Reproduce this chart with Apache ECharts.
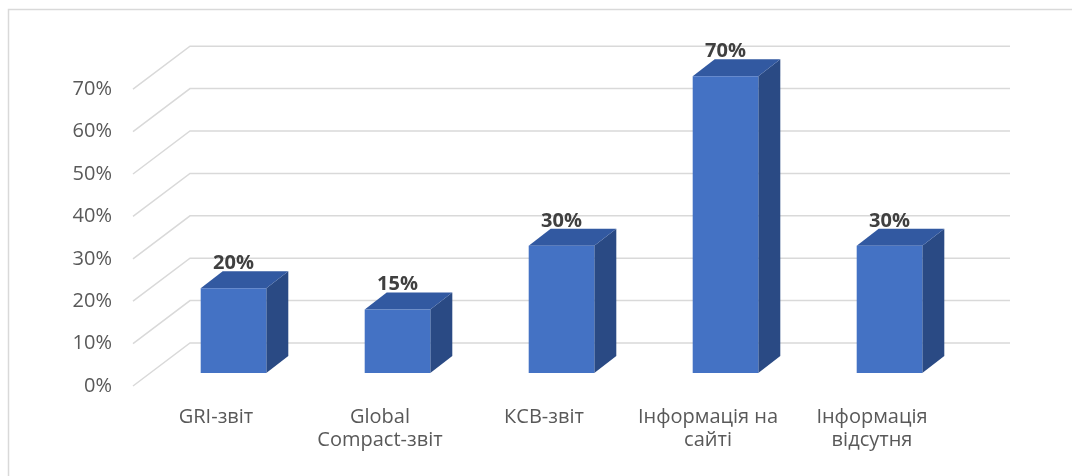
<!DOCTYPE html>
<html lang="uk">
<head>
<meta charset="UTF-8">
<title>Звіти</title>
<script src="https://cdn.jsdelivr.net/npm/echarts@6/dist/echarts.min.js"></script>
<style>
  html, body { margin: 0; padding: 0; background: #fff; }
  #main { width: 1072px; height: 476px; }
</style>
</head>
<body>
<div id="main"></div>
<script>
// дані з діаграми
var categories = ['GRI-звіт', 'Global Compact-звіт', 'КСВ-звіт', 'Інформація на сайті', 'Інформація відсутня'];
var catLabels = ['GRI-звіт', 'Global\nCompact-звіт', 'КСВ-звіт', 'Інформація на\nсайті', 'Інформація\nвідсутня'];
var values = [20, 15, 30, 70, 30];
var yTicks = [0, 10, 20, 30, 40, 50, 60, 70];

var font = '"Open Sans", "Noto Sans", sans-serif';
var chart = echarts.init(document.getElementById('main'));

// глибина стінок (3D-підлога) і глибина стовпців
var floorFront = [-18.5, 13], floorBack = [38.5, -30];
var barDepth = [22, -17];

var option = {
  animation: false,
  graphic: [{
    type: 'rect', shape: { x: 8.5, y: 9.5, width: 1200, height: 600 },
    style: { fill: 'none', stroke: '#d9d9d9', lineWidth: 1.5 }, silent: true
  }],
  grid: { left: 151.5, right: 100.5, top: 76.2, bottom: 103 },
  xAxis: {
    type: 'category',
    data: categories,
    axisLine: { show: false },
    axisTick: { show: false },
    axisLabel: {
      interval: 0,
      margin: 32.5,
      fontFamily: font,
      fontSize: 20,
      lineHeight: 23,
      color: '#595959',
      padding: [0, 35, 0, 0],
      formatter: function (v, i) { return catLabels[i]; }
    }
  },
  yAxis: {
    type: 'value', min: 0, max: 70, interval: 10,
    axisLine: { show: false }, axisTick: { show: false },
    axisLabel: { show: false }, splitLine: { show: false }
  },
  series: [{
    // сітка у перспективі + підписи осі
    type: 'custom',
    data: yTicks.map(function (v) { return [0, v]; }),
    silent: true,
    z: 1,
    renderItem: function (params, api) {
      var cs = params.coordSys;
      var y = api.coord([0, api.value(1)])[1];
      var x0 = cs.x, x1 = cs.x + cs.width;
      return {
        type: 'group',
        children: [{
          type: 'polyline',
          shape: { points: [[x0 + floorFront[0], y + floorFront[1]], [x0 + floorBack[0], y + floorBack[1]], [x1 + floorBack[0], y + floorBack[1]]] },
          style: { stroke: '#d9d9d9', lineWidth: 1.5, fill: null }
        }, {
          type: 'text',
          x: x0 - 39.5, y: y + floorFront[1],
          style: {
            text: api.value(1) + '%', align: 'right', verticalAlign: 'middle',
            fontFamily: font, fontSize: 20, fill: '#595959'
          }
        }]
      };
    }
  }, {
    type: 'custom',
    data: values.map(function (v, i) { return [i, v]; }),
    z: 2,
    renderItem: function (params, api) {
      var top = api.coord([api.value(0), api.value(1)]);
      var base = api.coord([api.value(0), 0]);
      var w = api.size([1, 0])[0] * 0.4;
      var l = top[0] - w / 2, r = top[0] + w / 2;
      var t = top[1], b = base[1];
      var dx = barDepth[0], dy = barDepth[1];
      return {
        type: 'group',
        children: [{
          type: 'polygon',
          shape: { points: [[r, b], [r + dx, b + dy], [r + dx, t + dy], [r, t]] },
          style: { fill: '#2a4a84' }
        }, {
          type: 'polygon',
          shape: { points: [[l, t], [l + dx, t + dy], [r + dx, t + dy], [r, t]] },
          style: { fill: '#3259a1' }
        }, {
          type: 'rect',
          shape: { x: l, y: t, width: w, height: b - t },
          style: { fill: '#4472c4' }
        }, {
          type: 'text',
          x: top[0], y: t - 25,
          style: {
            text: api.value(1) + '%', align: 'center', verticalAlign: 'middle',
            fontFamily: font, fontSize: 20, fontWeight: 'bold', fill: '#404040'
          }
        }]
      };
    }
  }]
};
chart.setOption(option);
</script>
</body>
</html>
